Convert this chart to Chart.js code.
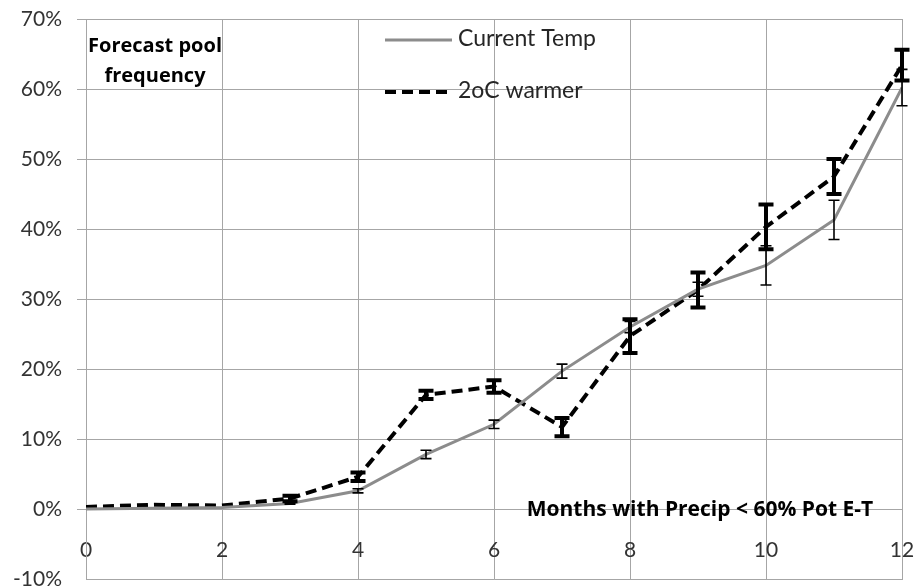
<!DOCTYPE html>
<html>
<head>
<meta charset="utf-8">
<script src="https://cdn.jsdelivr.net/npm/chart.js@4.4.0/dist/chart.umd.min.js"></script>
<style>
  html, body { margin: 0; padding: 0; background: #fff; }
  #wrap { width: 914px; height: 587px; position: relative; }
</style>
</head>
<body>
<div id="wrap"><canvas id="chart"></canvas></div>
<script>
// months with precip < 60% pot E-T
const months = [0, 1, 2, 3, 4, 5, 6, 7, 8, 9, 10, 11, 12];
const currentTemp = [0, 0.1, 0.2, 0.8, 2.6, 7.8, 12.1, 19.7, 26.0, 31.4, 34.8, 41.3, 60.2];
const currentErr = [0, 0, 0, 0.1, 0.3, 0.6, 0.6, 1.0, 0.8, 1.0, 2.8, 2.8, 2.6];
const warmer = [0.3, 0.6, 0.5, 1.5, 4.6, 16.3, 17.5, 11.7, 24.7, 31.3, 40.3, 47.5, 63.4];
const warmerErr = [0, 0, 0, 0.4, 0.6, 0.6, 0.9, 1.3, 2.4, 2.5, 3.2, 2.5, 2.2];
const xTicks = [0, 2, 4, 6, 8, 10, 12];
const yTicks = [-10, 0, 10, 20, 30, 40, 50, 60, 70];

const gridGray = "#a6a6a6";
const font = "Lato";
const boldFont = "Open Sans";

const errorBars = {
    id: "errorBars",
    afterDatasetsDraw(chart) {
        const ctx = chart.ctx;
        const xs = chart.scales.x, ys = chart.scales.y;
        const sets = [
            { vals: currentTemp, errs: currentErr, width: 1.6, cap: 11 },
            { vals: warmer, errs: warmerErr, width: 4, cap: 15 }
        ];
        ctx.save();
        ctx.strokeStyle = "#000";
        sets.forEach(s => {
            ctx.lineWidth = s.width;
            s.vals.forEach((v, i) => {
                const e = s.errs[i];
                if (!e) return;
                const x = xs.getPixelForValue(months[i]);
                const yTop = ys.getPixelForValue(v + e);
                const yBot = ys.getPixelForValue(v - e);
                ctx.beginPath();
                ctx.moveTo(x, yTop); ctx.lineTo(x, yBot);
                ctx.moveTo(x - s.cap / 2, yTop); ctx.lineTo(x + s.cap / 2, yTop);
                ctx.moveTo(x - s.cap / 2, yBot); ctx.lineTo(x + s.cap / 2, yBot);
                ctx.stroke();
            });
        });
        ctx.restore();
    }
};

const labels = {
    id: "labels",
    afterDraw(chart) {
        const ctx = chart.ctx;
        ctx.save();
        ctx.textBaseline = "middle";
        // legend inside the plot
        ctx.strokeStyle = "#8c8c8c";
        ctx.lineWidth = 3;
        ctx.beginPath(); ctx.moveTo(385, 40); ctx.lineTo(452, 40); ctx.stroke();
        ctx.strokeStyle = "#000";
        ctx.lineWidth = 4;
        ctx.setLineDash([11, 6]);
        ctx.beginPath(); ctx.moveTo(385, 92); ctx.lineTo(452, 92); ctx.stroke();
        ctx.setLineDash([]);
        ctx.fillStyle = "#262626";
        ctx.font = "23px " + font;
        ctx.textAlign = "left";
        ctx.fillText("Current Temp", 458, 39);
        ctx.fillText("2oC warmer", 458, 91);
        // annotations
        ctx.fillStyle = "#000";
        ctx.textAlign = "center";
        ctx.font = "bold 20px '" + boldFont + "'";
        ctx.fillText("Forecast pool", 155, 46);
        ctx.fillText("frequency", 155, 76);
        ctx.font = "bold 21px '" + boldFont + "'";
        ctx.fillText("Months with Precip < 60% Pot E-T", 700, 510);
        ctx.restore();
    }
};

new Chart(document.getElementById("chart").getContext("2d"), {
    type: "line",
    data: {
        datasets: [
            {
                label: "Current Temp",
                data: months.map((m, i) => ({ x: m, y: currentTemp[i] })),
                borderColor: "#8c8c8c",
                borderWidth: 3,
                pointRadius: 0,
                tension: 0
            },
            {
                label: "2oC warmer",
                data: months.map((m, i) => ({ x: m, y: warmer[i] })),
                borderColor: "#000",
                borderWidth: 4,
                borderDash: [11, 6],
                pointRadius: 0,
                tension: 0
            }
        ]
    },
    options: {
        responsive: true,
        maintainAspectRatio: false,
        animation: false,
        layout: { padding: { left: 0, right: 12, top: 19, bottom: 8 } },
        plugins: { legend: { display: false }, tooltip: { enabled: false } },
        scales: {
            x: {
                type: "linear",
                min: 0,
                max: 12,
                afterBuildTicks: s => { s.ticks = xTicks.map(v => ({ value: v })); },
                afterFit: s => { s.height = 0; s.paddingLeft = 0; s.paddingRight = 0; },
                grid: { color: gridGray, drawTicks: false },
                border: { color: gridGray },
                ticks: {
                    mirror: true,
                    padding: 16,
                    color: "#333",
                    font: { family: font, size: 21 },
                    maxRotation: 0,
                    autoSkip: false
                }
            },
            y: {
                min: -10,
                max: 70,
                afterBuildTicks: s => { s.ticks = yTicks.map(v => ({ value: v })); },
                afterFit: s => { s.width = 86; s.paddingTop = 0; s.paddingBottom = 0; },
                grid: {
                    color: gridGray,
                    tickLength: 9,
                    tickColor: c => (c.tick && c.tick.value === -10 ? "rgba(0,0,0,0)" : gridGray)
                },
                border: { color: gridGray },
                ticks: {
                    padding: 15,
                    color: "#333",
                    font: { family: font, size: 21 },
                    callback: v => v + "%"
                }
            }
        }
    },
    plugins: [errorBars, labels]
});
</script>
</body>
</html>
